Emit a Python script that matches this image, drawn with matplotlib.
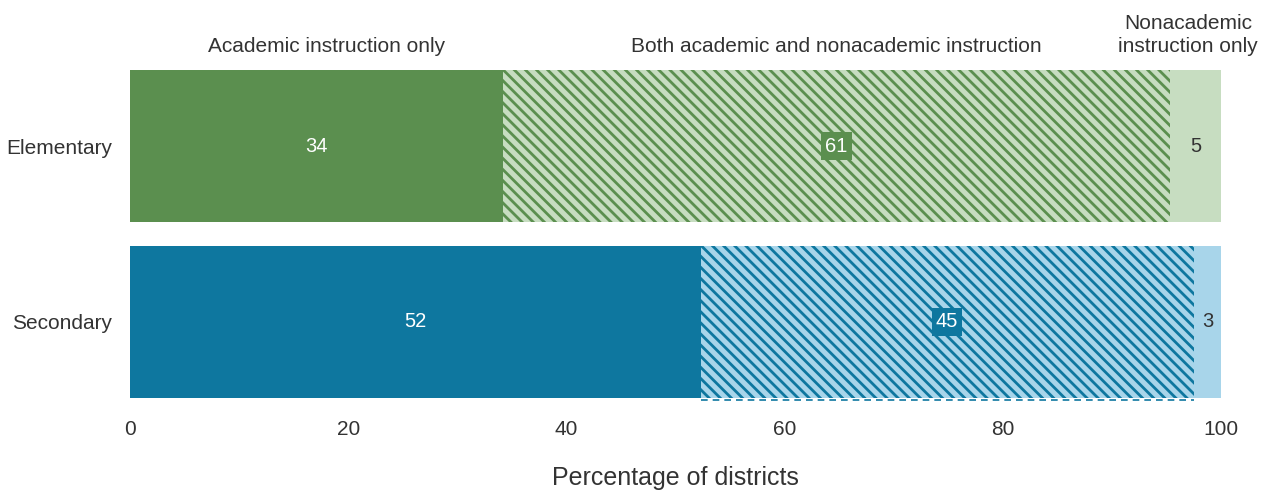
import matplotlib
matplotlib.use("Agg")
import matplotlib.pyplot as plt

# Data (bar lengths, labels are the rounded values)
levels = ["Elementary", "Secondary"]
academic_only = [34.2, 52.3]
both = [61.1, 45.2]
nonacademic_only = [4.7, 2.5]
academic_labels = ["34", "52"]
both_labels = ["61", "45"]
nonacademic_labels = ["5", "3"]
group_labels = ["Academic instruction only",
                "Both academic and nonacademic instruction",
                "Nonacademic\ninstruction only"]
xticks = [0, 20, 40, 60, 80, 100]

dark = ["#5b8f4f", "#0e779f"]
light = ["#c7ddc1", "#a8d5ea"]
text_col = "#333333"

plt.rcParams["font.family"] = ["Liberation Sans", "DejaVu Sans"]
plt.rcParams["hatch.linewidth"] = 2.0

fig = plt.figure(figsize=(12.68, 4.93), dpi=100)
ax = fig.add_axes([130 / 1268, 1 - 398 / 493, 1091 / 1268, 328 / 493])

h = 0.864
for i, lev in enumerate(levels):
    a, b, c = academic_only[i], both[i], nonacademic_only[i]
    ax.barh(i, a, height=h, color=dark[i], linewidth=0)
    ax.barh(i, b, left=a, height=h, facecolor=light[i], edgecolor=dark[i],
            hatch="\\\\\\", linewidth=0)
    ax.barh(i, c, left=a + b, height=h, color=light[i], linewidth=0)

    ax.text(a / 2, i, academic_labels[i], ha="center", va="center",
            color="white", fontsize=14.5)
    ax.text(a + b / 2, i, both_labels[i], ha="center", va="center",
            color="white", fontsize=14.5,
            bbox=dict(boxstyle="square,pad=0.2", facecolor=dark[i], edgecolor="none"))
    ax.text(a + b + c / 2, i, nonacademic_labels[i], ha="center", va="center",
            color=text_col, fontsize=14.5)

# dashed edge under the hatched secondary segment
ax.plot([academic_only[1], academic_only[1] + both[1]], [1 + h / 2 + 0.01] * 2,
        color=dark[1], lw=1.2, ls=(0, (4, 3)), clip_on=False)

# category headers above the bars
ax.text(18, -0.51, group_labels[0], ha="center", va="bottom", fontsize=15, color=text_col)
ax.text(academic_only[0] + both[0] / 2, -0.51, group_labels[1], ha="center", va="bottom",
        fontsize=15, color=text_col)
ax.text(97, -0.51, group_labels[2], ha="center", va="bottom",
        fontsize=15, color=text_col, linespacing=1.3)

ax.set_xlim(0, 100)
ax.set_ylim(1 + h / 2, -h / 2)
ax.set_xticks(xticks)
ax.set_xticklabels([str(t) for t in xticks], fontsize=15, color=text_col)
ax.set_yticks(range(len(levels)))
ax.set_yticklabels(levels, fontsize=15, color=text_col)
ax.tick_params(axis="x", length=0, pad=16)
ax.tick_params(axis="y", length=0, pad=13)
for s in ax.spines.values():
    s.set_visible(False)

ax.set_xlabel("Percentage of districts", fontsize=18, color=text_col, labelpad=19)

fig.savefig("out.png", dpi=100)
